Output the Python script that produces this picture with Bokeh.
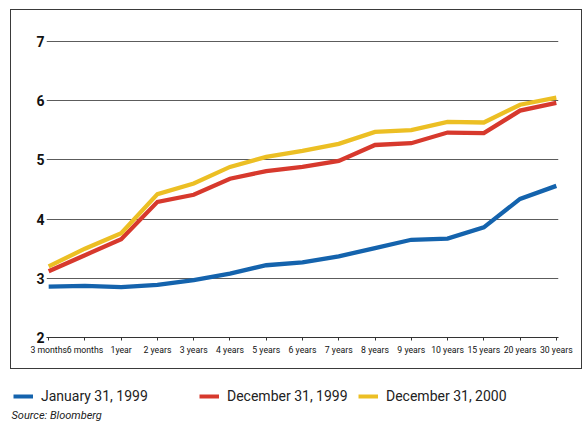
from bokeh.plotting import figure
from bokeh.models import Range1d, FixedTicker, Legend, LegendItem
from bokeh.layouts import column
from bokeh.core.properties import value
from bokeh.embed import file_html
from bokeh.resources import INLINE

maturities = ["3 months", "6 months", "1year", "2 years", "3 years", "4 years",
              "5 years", "6 years", "7 years", "8 years", "9 years", "10 years",
              "15 years", "20 years", "30 years"]
jan_1999 = [2.86, 2.87, 2.85, 2.89, 2.97, 3.08, 3.22, 3.27, 3.37, 3.51, 3.65, 3.67, 3.86, 4.34, 4.56]
dec_1999 = [3.12, 3.39, 3.66, 4.29, 4.41, 4.68, 4.81, 4.88, 4.98, 5.25, 5.28, 5.46, 5.45, 5.83, 5.96]
dec_2000 = [3.20, 3.50, 3.76, 4.42, 4.60, 4.88, 5.05, 5.15, 5.27, 5.47, 5.50, 5.64, 5.63, 5.93, 6.05]
y_ticks = [2, 3, 4, 5, 6, 7]
series_labels = ["January 31, 1999", "December 31, 1999", "December 31, 2000"]
series_colors = ["#1463ad", "#d7392d", "#ecbf24"]
source_note = "Source: Bloomberg"

FONT = "Roboto"

xs = list(range(len(maturities)))

p = figure(width=572, height=360, x_range=Range1d(-0.06, len(maturities) - 1 + 0.06),
           y_range=Range1d(2, 7.2), output_backend="svg", toolbar_location=None,
           min_border_left=35, min_border_right=25, min_border_top=19, min_border_bottom=33)
p.outline_line_color = None
p.background_fill_color = "white"
p.border_fill_color = "white"
p.styles = {"border": "1px solid #3a3a3a"}
p.margin = (9, 0, 0, 10)

for vals, col in zip([jan_1999, dec_1999, dec_2000], series_colors):
    p.line(xs, vals, line_color=col, line_width=4.3, line_join="miter")

p.xgrid.grid_line_color = None
p.ygrid.grid_line_color = "#5c5c5c"
p.ygrid.grid_line_width = 1
p.ygrid.ticker = FixedTicker(ticks=y_ticks)

p.xaxis.ticker = FixedTicker(ticks=xs)
p.xaxis.major_label_overrides = {i: m for i, m in enumerate(maturities)}
p.xaxis.axis_line_color = "#333333"
p.xaxis.major_tick_line_color = "#333333"
p.xaxis.major_tick_in = 0
p.xaxis.major_tick_out = 3
p.xaxis.minor_tick_line_color = None
p.xaxis.major_label_text_font = FONT
p.xaxis.major_label_text_font_size = "8.7px"
p.xaxis.major_label_text_color = "#111111"
p.xaxis.major_label_standoff = 4

p.yaxis.ticker = FixedTicker(ticks=y_ticks)
p.yaxis.axis_line_color = None
p.yaxis.major_tick_line_color = None
p.yaxis.major_tick_in = 0
p.yaxis.major_tick_out = 0
p.yaxis.minor_tick_line_color = None
p.yaxis.minor_tick_in = 0
p.yaxis.minor_tick_out = 0
p.yaxis.major_label_text_font = FONT
p.yaxis.major_label_text_font_style = "bold"
p.yaxis.major_label_text_font_size = "14px"
p.yaxis.major_label_text_color = "#111111"
p.yaxis.major_label_standoff = 2

# Legend + source panel
q = figure(width=580, height=52, x_range=Range1d(0, 580), y_range=Range1d(52, 0),
           output_backend="svg", toolbar_location=None,
           min_border=0, min_border_left=0, min_border_right=0, min_border_top=0, min_border_bottom=0)
try:
    q.frame_align = False
except Exception:
    pass
q.axis.visible = False
q.grid.visible = False
q.outline_line_color = None
q.background_fill_color = "white"
q.border_fill_color = "white"
q.margin = (0, 0, 0, 0)

legend_x = [13, 199, 358]
for lab, col, lx in zip(series_labels, series_colors, legend_x):
    r = q.line(x=[-50, -40], y=[-50, -50], line_color=col, line_width=4)
    lg = Legend(items=[LegendItem(label=lab, renderers=[r])], location=(lx, 17),
                orientation="horizontal", padding=0, margin=0, spacing=0,
                glyph_width=20, glyph_height=16, label_standoff=8,
                label_text_font=FONT, label_text_font_size="14px",
                label_text_color="#222222", border_line_color=None,
                background_fill_alpha=0)
    q.add_layout(lg, "center")

q.text(x=[11], y=[46], text=[source_note], text_font=value(FONT),
       text_font_style="italic", text_font_size="11px", text_color="#222222",
       text_baseline="middle", text_align="left")

layout = column(p, q, spacing=0)
open("out.html", "w").write(file_html(layout, INLINE))
